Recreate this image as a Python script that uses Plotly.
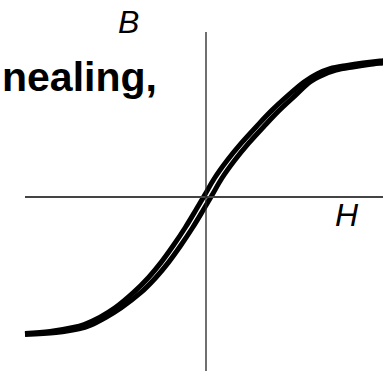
import plotly.graph_objects as go

# Hysteresis loop after annealing (normalised H and B)
# descending branch (from +saturation towards -saturation), upper/left one
h_down = [1.90, 1.74, 1.57, 1.41, 1.24, 1.11, 0.98, 0.835, 0.653, 0.503, 0.353, 0.213,
          0.083, -0.007, -0.097, -0.207, -0.327, -0.447, -0.577, -0.727, -0.91, -1.06,
          -1.22, -1.33, -1.56, -1.81]
b_down = [1.373, 1.36, 1.34, 1.316, 1.283, 1.23, 1.15, 1.028, 0.861, 0.703, 0.538, 0.367,
          0.185, 0.03, -0.123, -0.305, -0.485, -0.651, -0.807, -0.957, -1.109, -1.202,
          -1.275, -1.305, -1.345, -1.366]

# ascending branch (from -saturation towards +saturation), lower/right one
h_up = [-1.81, -1.50, -1.27, -1.16, -1.00, -0.85, -0.653, -0.503, -0.373, -0.253, -0.133,
        -0.023, 0.067, 0.157, 0.287, 0.427, 0.577, 0.727, 0.907, 1.04, 1.17, 1.30, 1.47,
        1.63, 1.80, 1.90]
b_up = [-1.376, -1.356, -1.318, -1.284, -1.202, -1.109, -0.957, -0.807, -0.651, -0.485,
        -0.305, -0.123, 0.03, 0.185, 0.367, 0.538, 0.703, 0.861, 1.028, 1.15, 1.22, 1.268,
        1.30, 1.324, 1.344, 1.357]

title_text = "nealing,"
x_label = "H"
y_label = "B"

fig = go.Figure()

# coordinate axes through the origin
fig.add_shape(type="line", x0=-1.81, x1=1.9, y0=0, y1=0,
              line=dict(color="#444444", width=2))
fig.add_shape(type="line", x0=0, x1=0, y0=-1.9, y1=1.65,
              line=dict(color="#222222", width=1.3))

for h, b in ((h_down, b_down), (h_up, b_up)):
    fig.add_trace(go.Scatter(
        x=h, y=b, mode="lines",
        line=dict(color="black", width=5, shape="spline", smoothing=1.0),
        hoverinfo="skip", showlegend=False,
    ))

fig.add_annotation(x=-0.78, y=1.755, xref="x", yref="y", text=y_label,
                   showarrow=False, xanchor="center", yanchor="middle",
                   font=dict(family="Liberation Sans", size=32, color="black", style="italic"))
fig.add_annotation(x=1.405, y=-0.18, xref="x", yref="y", text=x_label,
                   showarrow=False, xanchor="center", yanchor="middle",
                   font=dict(family="Liberation Sans", size=32, color="black", style="italic"))
fig.add_annotation(x=0, y=1.20, xref="paper", yref="y", text="<b>" + title_text + "</b>",
                   showarrow=False, xanchor="left", yanchor="middle",
                   font=dict(family="Liberation Sans", size=41, color="black"))

fig.update_layout(
    width=383, height=371,
    margin=dict(l=0, r=0, t=0, b=0),
    paper_bgcolor="white", plot_bgcolor="white",
    xaxis=dict(range=[-2.06, 1.77], visible=False, fixedrange=True),
    yaxis=dict(range=[-1.74, 1.97], visible=False, fixedrange=True),
)

fig.write_html("out.html")
